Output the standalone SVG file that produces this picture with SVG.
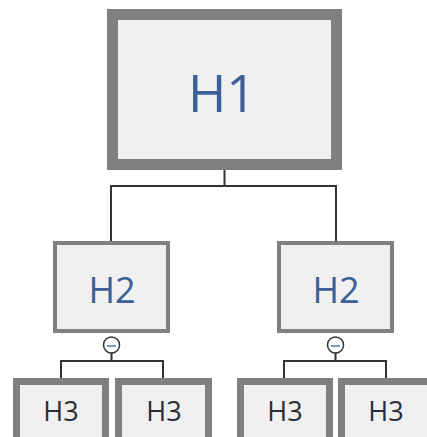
<svg xmlns="http://www.w3.org/2000/svg" width="427" height="437" viewBox="0 0 427 437">
  <style>
    .box { fill: #f0f0f0; stroke: #808080; }
    .h1 { stroke-width: 11; }
    .h2 { stroke-width: 4; }
    .h3 { stroke-width: 7; }
    .lbl { font-family: "Open Sans", "Noto Sans", sans-serif; text-anchor: middle; }
    .blue { fill: #3b5f96; }
    .dark { fill: #2e2e3a; }
    .conn { fill: none; stroke: #333333; stroke-width: 2; }
    .toggle { fill: #ffffff; stroke: #333333; stroke-width: 1.5; }
    .minus { stroke: #7f95b8; stroke-width: 2; }
  </style>
  <rect width="427" height="437" fill="#ffffff"/>

  <!-- connectors -->
  <g id="connectors">
    <path class="conn" d="M224.5 170 V186 M111 243 V186 H336 V243"/>
    <path class="conn" d="M111.5 353 V361 M61 380 V361 H163 V380"/>
    <path class="conn" d="M335.5 353 V361 M284 380 V361 H386 V380"/>
    <g id="toggle-left">
      <circle class="toggle" cx="111.5" cy="345" r="8"/>
      <line class="minus" x1="107" y1="346" x2="116" y2="346"/>
    </g>
    <g id="toggle-right">
      <circle class="toggle" cx="335.5" cy="345" r="8"/>
      <line class="minus" x1="331" y1="346" x2="340" y2="346"/>
    </g>
  </g>

  <g id="node-h1">
    <rect class="box h1" x="112.5" y="14.5" width="224" height="150"/>
    <text class="lbl blue" x="222" y="112" font-size="52">H1</text>
  </g>

  <g id="node-h2-left">
    <rect class="box h2" x="55" y="243" width="113" height="88"/>
    <text class="lbl blue" x="112" y="303" font-size="36">H2</text>
  </g>
  <g id="node-h2-right">
    <rect class="box h2" x="279" y="243" width="113" height="88"/>
    <text class="lbl blue" x="336" y="303" font-size="36">H2</text>
  </g>

  <g id="node-h3-1">
    <rect class="box h3" x="16.5" y="381.5" width="89" height="60"/>
    <text class="lbl dark" x="61" y="421" font-size="27">H3</text>
  </g>
  <g id="node-h3-2">
    <rect class="box h3" x="118.5" y="381.5" width="90" height="60"/>
    <text class="lbl dark" x="164" y="421" font-size="27">H3</text>
  </g>
  <g id="node-h3-3">
    <rect class="box h3" x="240.5" y="381.5" width="89" height="60"/>
    <text class="lbl dark" x="285" y="421" font-size="27">H3</text>
  </g>
  <g id="node-h3-4">
    <rect class="box h3" x="341.5" y="381.5" width="89" height="60"/>
    <text class="lbl dark" x="386" y="421" font-size="27">H3</text>
  </g>
</svg>
